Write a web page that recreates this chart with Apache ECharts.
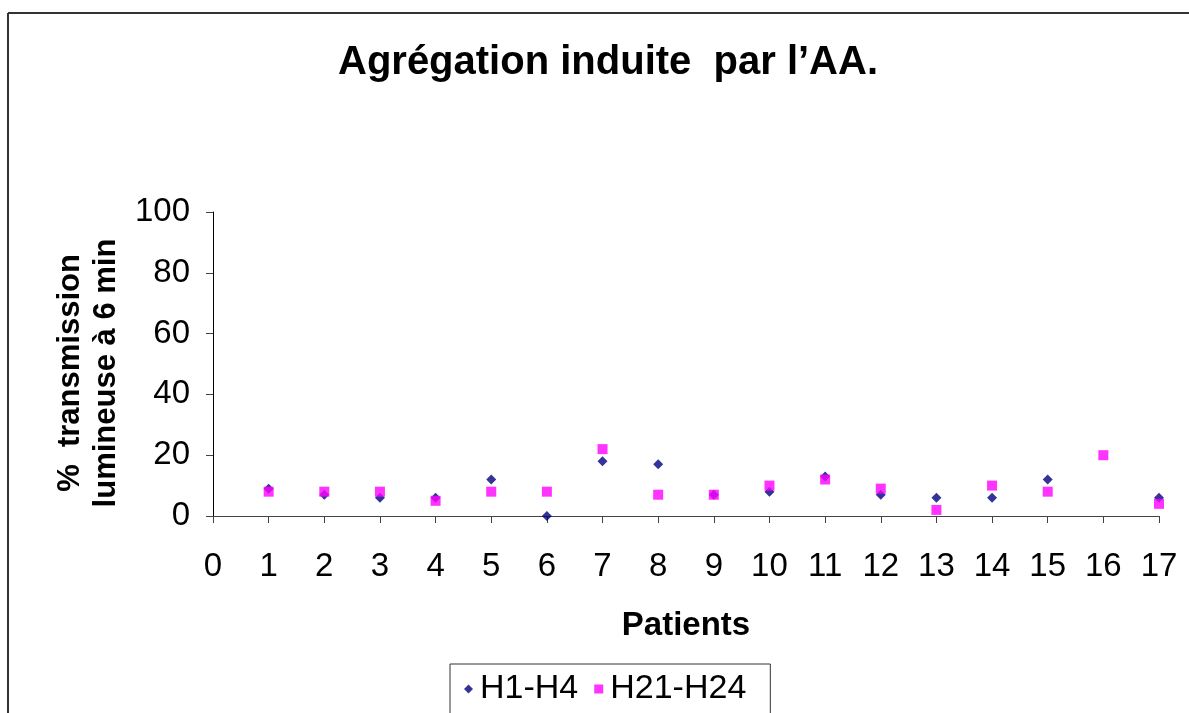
<!DOCTYPE html>
<html>
<head>
<meta charset="utf-8">
<script src="https://cdn.jsdelivr.net/npm/echarts@6/dist/echarts.min.js"></script>
<style>
    html, body { margin: 0; padding: 0; background: #fff; }
    #chart { width: 1189px; height: 713px; }
</style>
</head>
<body>
<div id="chart"></div>
<script>
// patients 1..17
var patients = [1, 2, 3, 4, 5, 6, 7, 8, 9, 10, 11, 12, 13, 14, 15, 16, 17];
// % transmission lumineuse a 6 min
var h1h4 = [9, 7, 6, 6, 12, 0, 18, 17, 7, 8, 13, 7, 6, 6, 12, null, 6];
var h21h24 = [8, 8, 8, 5, 8, 8, 22, 7, 7, 10, 12, 9, 2, 10, 8, 20, 4];
var yTicks = [0, 20, 40, 60, 80, 100];

function pairs(vals) {
    var out = [];
    for (var i = 0; i < patients.length; i++) {
        if (vals[i] != null) {
            out.push([patients[i], vals[i]]);
        }
    }
    return out;
}

var myChart = echarts.init(document.getElementById('chart'));
var font = 'Arial, "Liberation Sans", sans-serif';

var option = {
    backgroundColor: '#fff',
    animation: false,
    textStyle: { fontFamily: font },
    title: {
        text: 'Agrégation induite  par l\u2019AA.',
        left: 603,
        top: 38,
        textAlign: 'center',
        textStyle: { fontSize: 40, fontWeight: 'bold', color: '#000', fontFamily: font }
    },
    graphic: [
        { type: 'line', shape: { x1: 8, y1: 13, x2: 1189, y2: 13 }, style: { stroke: '#333', lineWidth: 2 } },
        { type: 'line', shape: { x1: 8, y1: 13, x2: 8, y2: 713 }, style: { stroke: '#333', lineWidth: 2 } },
        {
            type: 'text',
            x: 88,
            y: 373,
            rotation: Math.PI / 2,
            style: {
                text: '%  transmission\nlumineuse à 6 min',
                font: 'bold 31px ' + font,
                fill: '#000',
                align: 'center',
                verticalAlign: 'middle',
                lineHeight: 36
            }
        }
    ],
    legend: {
        left: 450,
        top: 664,
        padding: [8, 24, 20, 14],
        itemGap: 16,
        itemWidth: 9,
        itemHeight: 9,
        borderColor: '#333',
        borderWidth: 1,
        textStyle: { fontSize: 34, color: '#000', fontFamily: font, padding: [0, 0, 0, 2] },
        data: [
            { name: 'H1-H4', icon: 'diamond' },
            { name: 'H21-H24', icon: 'rect' }
        ]
    },
    grid: { left: 213, right: 30, top: 212, bottom: 197 },
    xAxis: {
        type: 'value',
        min: 0,
        max: 17,
        interval: 1,
        name: 'Patients',
        nameLocation: 'middle',
        nameGap: 93,
        nameTextStyle: { fontSize: 33, fontWeight: 'bold', color: '#000', fontFamily: font },
        axisLine: { lineStyle: { color: '#444', width: 1 } },
        axisTick: { length: 7, lineStyle: { color: '#444' } },
        axisLabel: { fontSize: 33, color: '#000', margin: 34, fontFamily: font },
        splitLine: { show: false }
    },
    yAxis: {
        type: 'value',
        min: yTicks[0],
        max: yTicks[yTicks.length - 1],
        interval: 20,
        axisLine: { show: true, lineStyle: { color: '#000', width: 1 } },
        axisTick: { show: true, length: 7, lineStyle: { color: '#444' } },
        axisLabel: { fontSize: 33, color: '#000', margin: 23, fontFamily: font },
        splitLine: { show: false }
    },
    series: [
        {
            name: 'H1-H4',
            type: 'scatter',
            symbol: 'diamond',
            symbolSize: 10,
            itemStyle: { color: '#000080' },
            data: pairs(h1h4)
        },
        {
            name: 'H21-H24',
            type: 'scatter',
            symbol: 'rect',
            symbolSize: 10,
            itemStyle: { color: '#ff00ff' },
            data: pairs(h21h24)
        }
    ]
};
myChart.setOption(option);
</script>
</body>
</html>
